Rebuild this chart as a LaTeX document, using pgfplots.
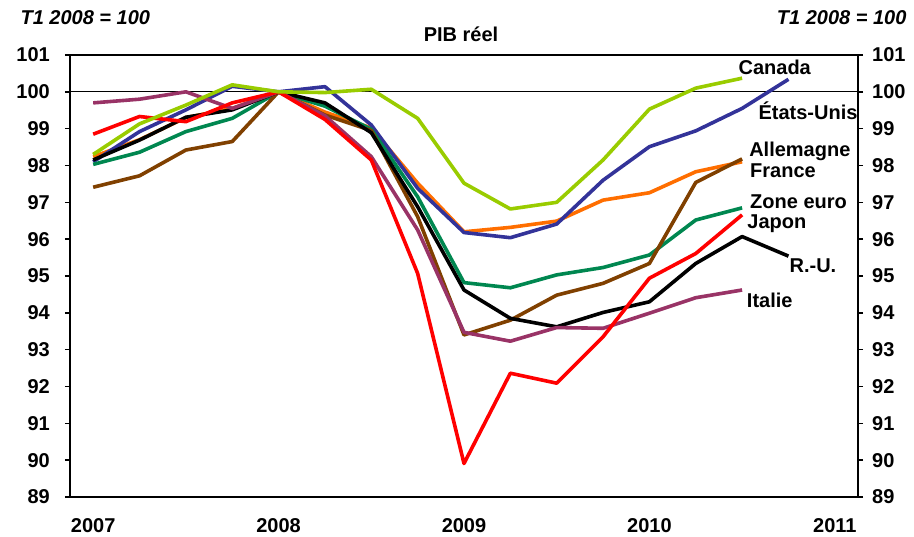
\documentclass[border=0pt]{standalone}
\usepackage{fontspec}
\setmainfont{Liberation Sans}
\usepackage{pgfplots}
\pgfplotsset{compat=1.18}
\usepackage{pgfplotstable}

\definecolor{cCan}{RGB}{153,204,0}
\definecolor{cUS}{RGB}{51,51,153}
\definecolor{cFra}{RGB}{255,110,0}
\definecolor{cGer}{RGB}{128,64,0}
\definecolor{cEur}{RGB}{0,135,80}
\definecolor{cJap}{RGB}{255,0,0}
\definecolor{cIta}{RGB}{153,51,102}

\newcommand\lbl{\fontsize{20}{24}\selectfont\bfseries}

\pgfplotstableread{
x can us fra ger eur jap uk ita
0 98.30 98.10 98.24 97.41 98.03 98.85 98.15 99.70
1 99.13 98.92 98.70 97.72 98.36 99.33 98.69 99.80
2 99.64 99.51 99.30 98.42 98.92 99.19 99.31 100.00
3 100.19 100.15 99.55 98.65 99.28 99.70 99.51 99.55
4 100.00 100.00 100.00 100.00 100.00 100.00 100.00 100.00
5 99.98 100.14 99.45 99.37 99.61 99.25 99.70 99.35
6 100.07 99.10 99.02 98.95 98.98 98.15 98.89 98.24
7 99.28 97.38 97.52 96.61 97.15 95.07 96.88 96.25
8 97.52 96.18 96.20 93.40 94.82 89.91 94.62 93.47
9 96.82 96.04 96.32 93.80 94.68 92.36 93.85 93.23
10 97.00 96.41 96.49 94.48 95.03 92.09 93.62 93.60
11 98.15 97.60 97.06 94.80 95.23 93.35 94.01 93.58
12 99.53 98.51 97.26 95.34 95.57 94.94 94.30 93.99
13 100.10 98.94 97.83 97.54 96.52 95.61 95.34 94.41
14 100.37 99.55 98.10 98.18 96.85 96.66 96.07 94.62
15 nan 100.34 nan nan nan nan 95.54 nan
}\gdp

\pgfplotsset{
  base/.style={
    at={(70pt,40pt)}, anchor=south west, scale only axis,
    width=788pt, height=442pt,
    xmin=-0.5, xmax=16.5, ymin=89, ymax=101,
    ytick={89,90,...,101},
    tick align=outside, major tick length=5pt,
    /pgf/number format/assume math mode=true,
    tick label style={font=\lbl},
    axis line style={line width=1.6pt},
    major tick style={black, line width=1.4pt},
  },
  ser/.style={line width=3.6pt, line join=round, mark=none, unbounded coords=jump},
}
\tikzset{lab/.style={anchor=base west, inner sep=0pt, font=\lbl}}

\begin{document}
\begin{tikzpicture}
\path[use as bounding box] (0,0) rectangle (914pt,537pt);
\begin{axis}[base,
  clip=false,
  xtick={0,4,8,12,16},
  xticklabels={2007,2008,2009,2010,2011},
  x tick style={draw=none},
  ytick pos=left,
  yticklabel style={anchor=east, inner sep=0pt, xshift=-15pt},
  xticklabel style={anchor=north, inner sep=0pt, yshift=-16pt},
]
\addplot[black, line width=1pt, forget plot] coordinates {(-0.5,100) (16.5,100)};
\addplot[ser, cFra] table[x=x, y=fra] {\gdp};
\addplot[ser, cUS] table[x=x, y=us] {\gdp};
\addplot[ser, cEur] table[x=x, y=eur] {\gdp};
\addplot[ser, cGer] table[x=x, y=ger] {\gdp};
\addplot[ser, black] table[x=x, y=uk] {\gdp};
\addplot[ser, cIta] table[x=x, y=ita] {\gdp};
\addplot[ser, cJap] table[x=x, y=jap] {\gdp};
\addplot[ser, cCan] table[x=x, y=can] {\gdp};

\node[lab] at (axis cs:13.92,100.46) {Canada};
\node[lab] at (axis cs:14.35,99.24) {États-Unis};
\node[lab] at (axis cs:14.15,98.24) {Allemagne};
\node[lab] at (axis cs:14.17,97.67) {France};
\node[lab] at (axis cs:14.17,96.82) {Zone euro};
\node[lab] at (axis cs:14.11,96.30) {Japon};
\node[lab] at (axis cs:15.02,95.09) {R.-U.};
\node[lab] at (axis cs:14.10,94.14) {Italie};
\end{axis}
\begin{axis}[base,
  axis x line=none,
  axis y line*=right,
  yticklabel style={anchor=west, inner sep=0pt, xshift=9pt},
]
\addplot[draw=none, forget plot] coordinates {(0,95)};
\end{axis}
\node[anchor=base, font=\lbl] at (461pt,495pt) {PIB réel};
\node[anchor=base west, font=\lbl\itshape] at (17pt,512pt) {T1 2008 = 100};
\node[anchor=base east, font=\lbl\itshape] at (910pt,512pt) {T1 2008 = 100};
\end{tikzpicture}
\end{document}
